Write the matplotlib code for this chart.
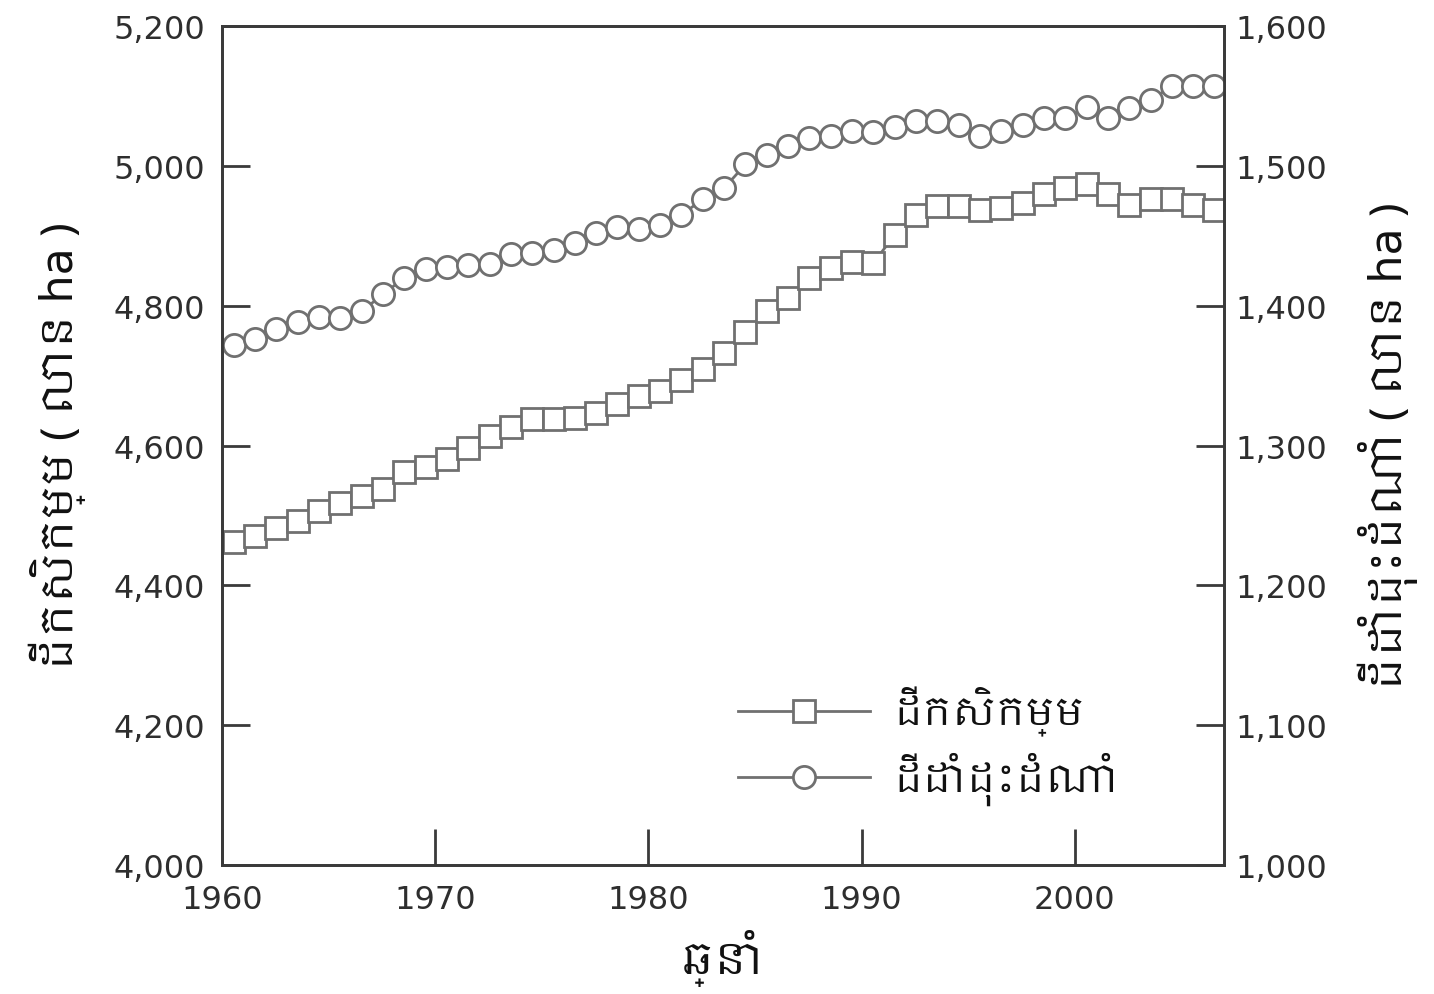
import matplotlib
matplotlib.use("Agg")
import matplotlib.pyplot as plt
from matplotlib import font_manager as fm
from matplotlib.ft2font import FT2Font
from matplotlib.ticker import FuncFormatter, FixedLocator

# ---------------- data ----------------
years = list(range(1961, 2008))
agri_land = [4462, 4471, 4482, 4492, 4507, 4518, 4528, 4538, 4562, 4569,
             4581, 4597, 4614, 4626, 4638, 4638, 4640, 4647, 4659, 4671,
             4678, 4694, 4709, 4732, 4763, 4792, 4811, 4840, 4854, 4862,
             4861, 4901, 4930, 4942, 4942, 4937, 4940, 4947, 4960, 4968,
             4974, 4960, 4944, 4953, 4953, 4944, 4937]
crop_land = [1372, 1376, 1383, 1388, 1392, 1391, 1396, 1408, 1420, 1426,
             1428, 1429, 1430, 1437, 1438, 1440, 1445, 1452, 1456, 1455,
             1458, 1465, 1476, 1484, 1501, 1508, 1514, 1520, 1521, 1525,
             1524, 1528, 1532, 1532, 1529, 1521, 1525, 1529, 1534, 1534,
             1542, 1534, 1541, 1547, 1557, 1557, 1557]
x_ticks = [1960, 1970, 1980, 1990, 2000]
left_ticks = [4000, 4200, 4400, 4600, 4800, 5000, 5200]
right_ticks = [1000, 1100, 1200, 1300, 1400, 1500, 1600]
label_agri = "ដីកសិកម្ម"
label_crop = "ដីដាំដុះដំណាំ"
ylabel_left = "ដីកសិកម្ម ( លាន ha )"
ylabel_right = "ដីដាំដុះដំណាំ ( លាន ha )"
xlabel = "ឆ្នាំ"

# ---------------- fonts ----------------
def find_khmer_font():
    found = []
    for f in fm.fontManager.ttflist:
        try:
            ft = FT2Font(f.fname)
            if 0x1780 in ft.get_charmap():
                found.append(f.name)
        except Exception:
            pass
    for n in found:
        if "khmer" in n.lower():
            return n
    return found[0] if found else None

khmer = find_khmer_font()
families = ([khmer] if khmer else []) + ["DejaVu Sans"]

plt.rcParams["font.family"] = families

TXT = "#2e2e2e"
MK = "#707070"
SP = "#3a3a3a"

fig = plt.figure(figsize=(14.34, 9.95), dpi=100)
ax = fig.add_axes([0.1548, 0.1296, 0.8536 - 0.1548, 0.9729 - 0.1296])
ax2 = ax.twinx()

xs = [y - 0.45 for y in years]
l1, = ax.plot(xs, agri_land, color=MK, lw=2, marker="s", ms=16,
              mfc="white", mec=MK, mew=2, label=label_agri)
l2, = ax2.plot(xs, crop_land, color=MK, lw=2, marker="o", ms=16,
               mfc="white", mec=MK, mew=2, label=label_crop)

ax.set_xlim(1960, 2007)
ax.set_ylim(4000, 5200)
ax2.set_ylim(1000, 1600)
ax.xaxis.set_major_locator(FixedLocator(x_ticks))
ax.yaxis.set_major_locator(FixedLocator(left_ticks))
ax2.yaxis.set_major_locator(FixedLocator(right_ticks))
fmt = FuncFormatter(lambda v, p: f"{int(v):,}")
ax.yaxis.set_major_formatter(fmt)
ax2.yaxis.set_major_formatter(fmt)

for a in (ax, ax2):
    for s in a.spines.values():
        s.set_color(SP)
        s.set_linewidth(2)

ax.tick_params(axis="x", direction="in", length=26, width=2, color=SP,
               pad=14, labelsize=23, labelcolor=TXT)
ax.tick_params(axis="y", direction="in", length=20, width=2, color=SP,
               pad=12, labelsize=23, labelcolor=TXT)
ax2.tick_params(axis="y", direction="in", length=20, width=2, color=SP,
                pad=8, labelsize=23, labelcolor=TXT)
for t in ax.get_xticklabels() + ax.get_yticklabels() + ax2.get_yticklabels():
    t.set_fontfamily("DejaVu Sans")

ax.set_ylabel(ylabel_left, fontsize=32, color="#111111", labelpad=20)
ax2.set_ylabel(ylabel_right, fontsize=32, color="#111111", labelpad=22)
ax.set_xlabel(xlabel, fontsize=32, color="#111111", labelpad=10)

leg = ax.legend(handles=[l1, l2], loc="lower left",
                bbox_to_anchor=(0.48, 0.03), frameon=False, fontsize=28,
                handlelength=3.4, labelspacing=0.4, handletextpad=0.6,
                labelcolor="#111111")

fig.savefig("out.png", dpi=100)
